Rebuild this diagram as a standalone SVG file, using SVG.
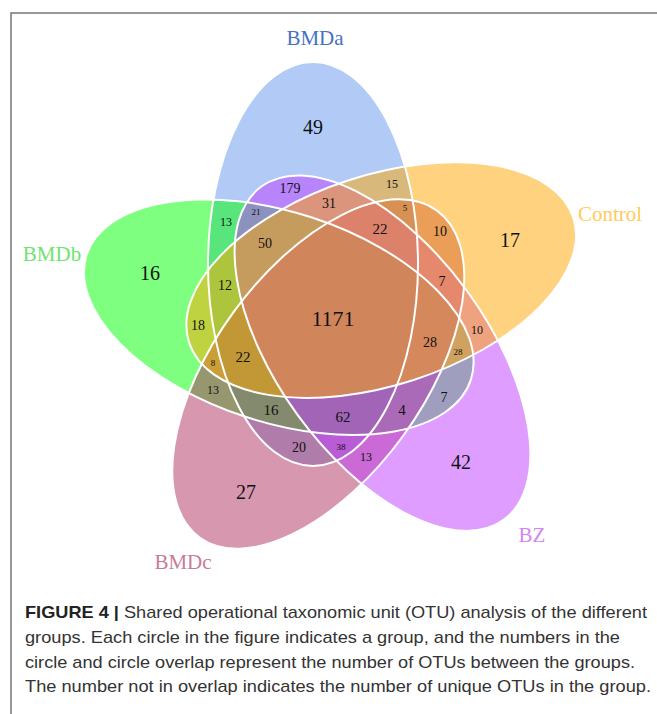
<svg xmlns="http://www.w3.org/2000/svg" width="657" height="714" viewBox="0 0 657 714">
<style>
.e{fill-opacity:0.5;stroke:none}
.o{fill:none;stroke:#ffffff;stroke-width:2}
.n{font-family:"Liberation Serif","DejaVu Serif",serif;fill:#111;text-anchor:middle;dominant-baseline:central}
.lb{font-family:"Liberation Serif","DejaVu Serif",serif;font-size:21px;text-anchor:middle;dominant-baseline:central}
.cap{font-family:"Liberation Sans",Arial,sans-serif;font-size:17px;fill:#333}
</style>
<defs>
<ellipse id="ea" cx="313" cy="264" rx="105" ry="202"/>
<ellipse id="eb" cx="313" cy="264" rx="105" ry="202" transform="translate(2.2,-6.7) rotate(288 336 319)"/>
<ellipse id="ec" cx="313" cy="264" rx="105" ry="202" transform="translate(-4,-3) rotate(216 336 319)"/>
<ellipse id="ez" cx="382.5" cy="353.2" rx="105" ry="206" transform="rotate(-36 382.5 353.2)"/>
<ellipse id="ek" cx="313" cy="264" rx="105" ry="202" transform="rotate(72 336 319)"/>
</defs>
<rect width="657" height="714" fill="#fff"/>
<path d="M11 714V13H657" fill="none" stroke="#777" stroke-width="1.5"/>
<g id="BMDa"><use href="#ea" class="e" fill="#6495ED"/></g>
<g id="BMDb"><use href="#eb" class="e" fill="#00FF00"/></g>
<g id="BMDc"><use href="#ec" class="e" fill="#B03060"/></g>
<g id="BZ"><use href="#ez" class="e" fill="#BF3EFF"/></g>
<g id="Control"><use href="#ek" class="e" fill="#FFA500"/></g>
<g id="outlines">
<use href="#ea" class="o"/>
<use href="#eb" class="o"/>
<use href="#ec" class="o"/>
<use href="#ez" class="o"/>
<use href="#ek" class="o"/>
</g>
<g id="labels">
<text class="lb" x="315" y="38" fill="#4472C4">BMDa</text>
<text class="lb" x="52" y="254" fill="#6FE36F">BMDb</text>
<text class="lb" x="610" y="214" fill="#FFCB5C">Control</text>
<text class="lb" x="532" y="535" fill="#D386F2">BZ</text>
<text class="lb" x="183" y="562" fill="#C97C98">BMDc</text>
</g>
<g id="counts">
<text class="n" x="313" y="127" font-size="20">49</text>
<text class="n" x="290" y="188" font-size="14">179</text>
<text class="n" x="392" y="184" font-size="12">15</text>
<text class="n" x="256" y="212" font-size="9">21</text>
<text class="n" x="329" y="203" font-size="14">31</text>
<text class="n" x="405" y="208" font-size="9">5</text>
<text class="n" x="226" y="222" font-size="12">13</text>
<text class="n" x="380" y="229" font-size="15">22</text>
<text class="n" x="440" y="231" font-size="14">10</text>
<text class="n" x="510" y="240" font-size="20">17</text>
<text class="n" x="150" y="273" font-size="20">16</text>
<text class="n" x="265" y="243" font-size="14">50</text>
<text class="n" x="225" y="285" font-size="14">12</text>
<text class="n" x="442" y="281" font-size="14">7</text>
<text class="n" x="333" y="318" font-size="22">1171</text>
<text class="n" x="198" y="325" font-size="14">18</text>
<text class="n" x="477" y="330" font-size="12">10</text>
<text class="n" x="430" y="342" font-size="14">28</text>
<text class="n" x="458" y="352" font-size="9">28</text>
<text class="n" x="213" y="363" font-size="9">8</text>
<text class="n" x="243" y="357" font-size="15">22</text>
<text class="n" x="213" y="390" font-size="12">13</text>
<text class="n" x="444" y="397" font-size="14">7</text>
<text class="n" x="271" y="410" font-size="15">16</text>
<text class="n" x="343" y="417" font-size="15">62</text>
<text class="n" x="402" y="410" font-size="15">4</text>
<text class="n" x="299" y="447" font-size="14">20</text>
<text class="n" x="341" y="447" font-size="9">38</text>
<text class="n" x="366" y="457" font-size="12">13</text>
<text class="n" x="461" y="462" font-size="20">42</text>
<text class="n" x="246" y="492" font-size="20">27</text>
</g>
<g id="caption">
<text class="cap" x="25" y="618" textLength="622" lengthAdjust="spacingAndGlyphs"><tspan font-weight="bold" fill="#222">FIGURE 4 |</tspan> Shared operational taxonomic unit (OTU) analysis of the different</text>
<text class="cap" x="25" y="643" textLength="595" lengthAdjust="spacingAndGlyphs">groups. Each circle in the figure indicates a group, and the numbers in the</text>
<text class="cap" x="25" y="668" textLength="610" lengthAdjust="spacingAndGlyphs">circle and circle overlap represent the number of OTUs between the groups.</text>
<text class="cap" x="25" y="692" textLength="626" lengthAdjust="spacingAndGlyphs">The number not in overlap indicates the number of unique OTUs in the group.</text>
</g>
</svg>
